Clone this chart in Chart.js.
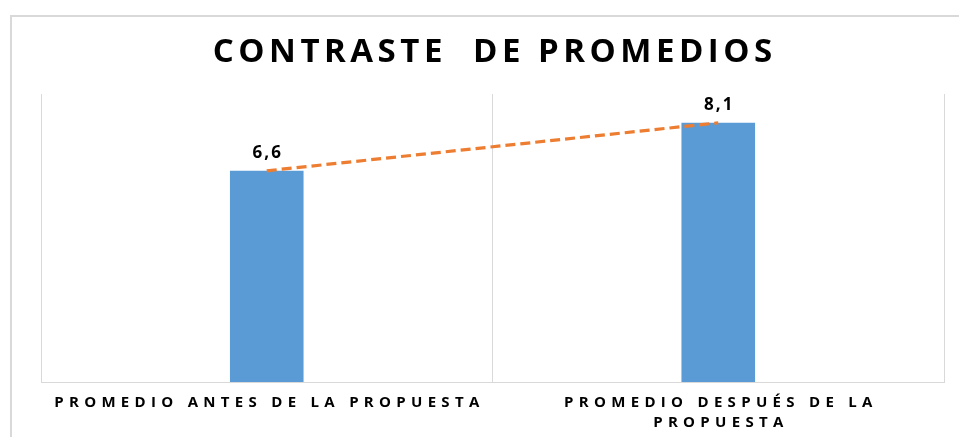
<!DOCTYPE html>
<html>
<head>
<meta charset="utf-8">
<script src="https://cdn.jsdelivr.net/npm/chart.js@4/dist/chart.umd.min.js"></script>
<style>
  html, body { margin: 0; padding: 0; background: #ffffff; }
  canvas { display: block; }
</style>
</head>
<body>
<canvas id="chart" width="959" height="437"></canvas>
<script>
// Averages before and after the proposal
const categories = ['PROMEDIO ANTES DE LA PROPUESTA', 'PROMEDIO DESPUÉS DE LA PROPUESTA'];
const tickLabels = [['PROMEDIO ANTES DE LA PROPUESTA'], ['PROMEDIO DESPUÉS DE LA', 'PROPUESTA']];
const averages = [6.6, 8.1];
const yTicks = [0, 9];

const FONT = '"Open Sans"';
const BLUE = '#5B9BD5';
const ORANGE = '#ED7D31';
const GRID = '#D9D9D9';

const fmt = v => v.toFixed(1).replace('.', ',');

// Light frame around the whole chart
const framePlugin = {
  id: 'frame',
  beforeDraw(chart) {
    const ctx = chart.ctx;
    ctx.save();
    ctx.fillStyle = '#ffffff';
    ctx.fillRect(0, 0, chart.width, chart.height);
    ctx.strokeStyle = GRID;
    ctx.lineWidth = 2;
    ctx.strokeRect(11, 16, chart.width + 20, chart.height + 20);
    ctx.restore();
  }
};

// Wrap a draw method so its text is drawn with extra tracking
function withTracking(obj, method, spacing) {
  if (!obj || obj['_tracked_' + method]) return;
  const orig = obj[method];
  obj[method] = function (...args) {
    const ctx = this.ctx;
    ctx.save();
    ctx.letterSpacing = spacing + 'px';
    ctx.translate(spacing / 2, 0);
    const r = orig.apply(this, args);
    ctx.restore();
    return r;
  };
  obj['_tracked_' + method] = true;
}

const trackingPlugin = {
  id: 'tracking',
  beforeDraw(chart) {
    withTracking(chart.scales.x, 'drawLabels', 5.3);
    withTracking(chart.titleBlock, 'draw', 4.5);
  }
};

// Value labels above the bars
const valueLabelPlugin = {
  id: 'valueLabels',
  afterDatasetsDraw(chart) {
    const ctx = chart.ctx;
    const meta = chart.getDatasetMeta(0);
    ctx.save();
    ctx.font = 'bold 17px ' + FONT;
    ctx.letterSpacing = '2px';
    ctx.fillStyle = '#000000';
    ctx.textAlign = 'center';
    ctx.textBaseline = 'middle';
    meta.data.forEach((bar, i) => {
      ctx.fillText(fmt(averages[i]), bar.x + 1, bar.y - 18);
    });
    ctx.restore();
  }
};

new Chart(document.getElementById('chart'), {
  data: {
    labels: tickLabels,
    datasets: [
      {
        type: 'bar',
        label: 'Promedio',
        data: averages,
        backgroundColor: BLUE,
        borderWidth: 0,
        categoryPercentage: 1,
        barPercentage: 0.163,
        order: 2
      },
      {
        type: 'line',
        label: 'Tendencia',
        data: averages,
        borderColor: ORANGE,
        borderWidth: 3.2,
        borderDash: [10, 5],
        pointRadius: 0,
        fill: false,
        tension: 0,
        order: 1
      }
    ]
  },
  options: {
    responsive: false,
    animation: false,
    devicePixelRatio: 1,
    layout: { padding: { left: 41, right: 15, top: 0, bottom: 2 } },
    plugins: {
      legend: { display: false },
      tooltip: { enabled: false },
      title: {
        display: true,
        text: 'CONTRASTE  DE PROMEDIOS',
        color: '#000000',
        font: { family: FONT, size: 33, weight: 'bold', lineHeight: 1.2 },
        padding: { top: 33.2, bottom: 21.2 }
      }
    },
    scales: {
      x: {
        offset: true,
        grid: {
          display: true,
          color: GRID,
          lineWidth: 1,
          drawTicks: false,
          offset: true
        },
        border: { display: true, color: GRID, width: 1 },
        ticks: {
          color: '#000000',
          padding: 10,
          maxRotation: 0,
          autoSkip: false,
          font: { family: FONT, size: 15, weight: 'bold', lineHeight: 1.37 }
        },
        afterFit(scale) { scale.height = 53; }
      },
      y: {
        display: false,
        min: yTicks[0],
        max: yTicks[1]
      }
    }
  },
  plugins: [framePlugin, trackingPlugin, valueLabelPlugin]
});
</script>
</body>
</html>
